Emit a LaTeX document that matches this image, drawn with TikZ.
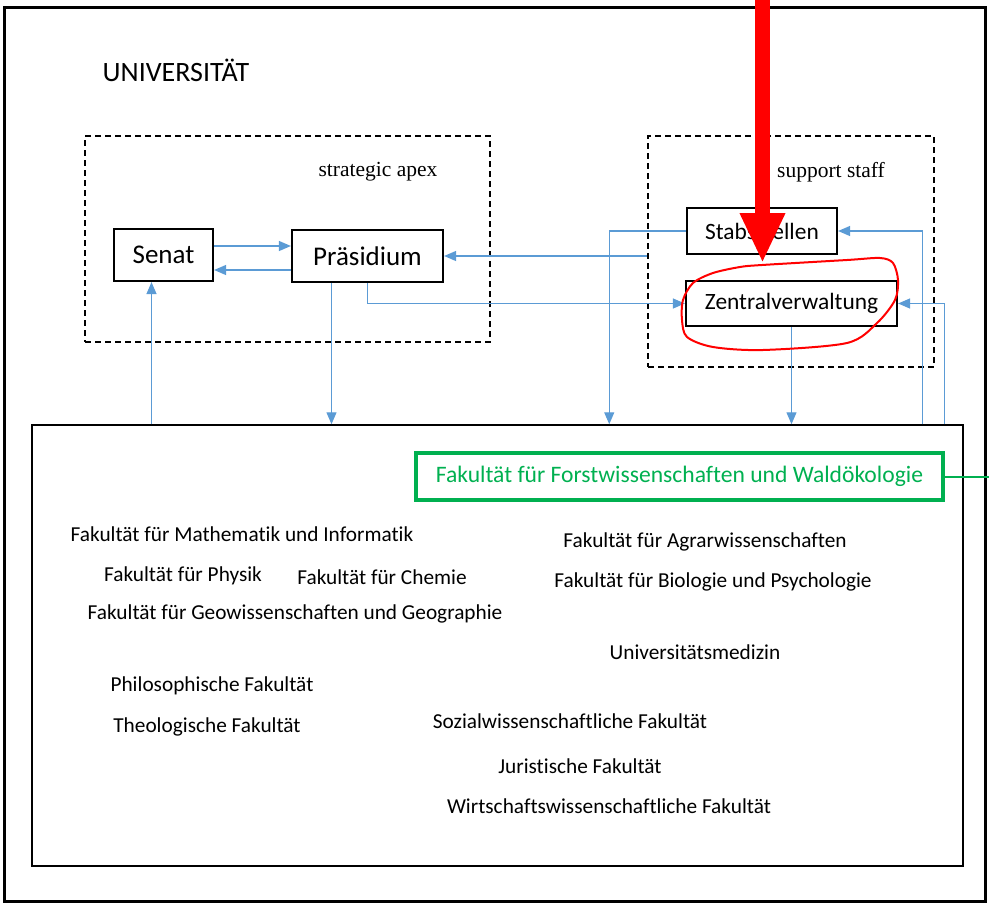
\documentclass[tikz,border=0pt]{standalone}
\usepackage{fontspec}
\setmainfont{Carlito}[Ligatures=NoCommon]
\newfontfamily\apexfont{Liberation Serif}
\usetikzlibrary{arrows.meta,positioning,calc}
\definecolor{linkblue}{RGB}{91,155,213}
\definecolor{facgreen}{RGB}{0,176,80}
\tikzset{every picture/.style={line width=1pt}}

\begin{document}
\begin{tikzpicture}[x=1pt,y=-1pt,
    unit/.style={draw, line width=2.2pt, inner sep=0pt, font=\fontsize{23.4}{28}\selectfont},
    area/.style={draw, dash pattern=on 6pt off 4pt, line width=2.2pt, inner sep=0pt},
    conn/.style={linkblue, line width=1.2pt, -{Triangle[length=12pt,width=10pt]}},
    fac/.style={font=\fontsize{21.3}{25}\selectfont}]
    \useasboundingbox (0,0) rectangle (989,905);
    % Frame
    \draw[line width=3pt] (4,7) rectangle (985,901);
    \node[font=\fontsize{28}{32}\selectfont] (uni) at (176,70) {UNIVERSITÄT};
    % Strategic apex
    \node[area, minimum width=405pt, minimum height=206pt] (apex) at (287.5,239) {};
    \node[font=\apexfont\fontsize{21.5}{25}\selectfont] (apexlabel) at (378,172) {strategic apex};
    \node[unit, minimum width=99pt, minimum height=52pt, font=\fontsize{27}{32}\selectfont] (senat) at (163.5,255) {Senat};
    \node[unit, minimum width=151pt, minimum height=52pt, font=\fontsize{27}{32}\selectfont] (praes) at (367.5,256) {Präsidium};
    % Support staff
    \node[area, minimum width=286pt, minimum height=231pt] (supp) at (791,251.5) {};
    \node[font=\apexfont\fontsize{21.5}{25}\selectfont] (supplabel) at (831,172) {support staff};
    \node[unit, minimum width=150pt, minimum height=46pt] (stab) at (762,231) {Stabsstellen};
    \node[unit, minimum width=211pt, minimum height=45pt] (zv) at (791.5,303.5) {Zentralverwaltung};
    % Faculties
    \node[draw, line width=1.5pt, minimum width=931pt, minimum height=441pt] (fak) at (497.5,645.5) {};
    \node[draw=facgreen, line width=4pt, text=facgreen, minimum width=527pt, minimum height=47pt,
        font=\fontsize{23.6}{28}\selectfont] (forst) at (679.5,476.5) {Fakultät für Forstwissenschaften und Waldökologie};
    \node[fac] (mathinf) at (242,534) {Fakultät für Mathematik und Informatik};
    \node[fac] (physik) at (183,576) {Fakultät für Physik};
    \node[fac] (chemie) at (382,577) {Fakultät für Chemie};
    \node[fac] (geo) at (295,614) {Fakultät für Geowissenschaften und Geographie};
    \node[fac] (philo) at (212,686) {Philosophische Fakultät};
    \node[fac] (theo) at (207,727) {Theologische Fakultät};
    \node[fac] (agrar) at (705,542) {Fakultät für Agrarwissenschaften};
    \node[fac] (bio) at (713,582) {Fakultät für Biologie und Psychologie};
    \node[fac] (med) at (695,652) {Universitätsmedizin};
    \node[fac] (sozial) at (570,721) {Sozialwissenschaftliche Fakultät};
    \node[fac] (jura) at (580,766) {Juristische Fakultät};
    \node[fac] (wiwi) at (609,806) {Wirtschaftswissenschaftliche Fakultät};
    % Connectors
    \coordinate (s1) at ([yshift=9pt]senat.east);
    \coordinate (s2) at ([yshift=-14pt]praes.west);
    \coordinate (s3) at ([xshift=-12pt]senat.south);
    \coordinate (p1) at ([xshift=-36pt]praes.south);
    \draw[conn] (s1) -- (s1 -| praes.west);
    \draw[conn] (s2) -- (s2 -| senat.east);
    \draw[conn] (s3 |- fak.north) -- (s3);
    \draw[conn] (p1) -- (p1 |- fak.north);
    \draw[conn] (praes.south) |- (zv.west);
    \draw[conn] (supp.west |- praes.east) -- (praes.east);
    \draw[conn] (stab.west) -| ($(fak.north west)+(578,0)$);
    \draw[conn] (zv.south) -- (zv.south |- fak.north);
    \draw[conn] ($(fak.north east)+(-41,0)$) |- (stab.east);
    \draw[conn] ($(fak.north east)+(-19,0)$) |- (zv.east);
    % Green link
    \coordinate (edge) at (989,476.5);
    \draw[facgreen, line width=2pt] (forst.east) -- (edge);
    % Red marking
    \coordinate (top) at (762.5,0);
    \coordinate (hit) at (762.5,263);
    \draw[red, line width=15pt, -{Triangle[length=50pt,width=42pt]}] (top) -- (hit);
    \draw[red, line width=2pt] plot[smooth cycle] coordinates {(762,265) (847,260) (880,258) (893,263)
        (898,280) (895,300) (877,323) (847,343) (763,350) (713,347) (687,337) (682,320) (683,300)
        (693,283) (713,273) (740,267)};
\end{tikzpicture}
\end{document}
